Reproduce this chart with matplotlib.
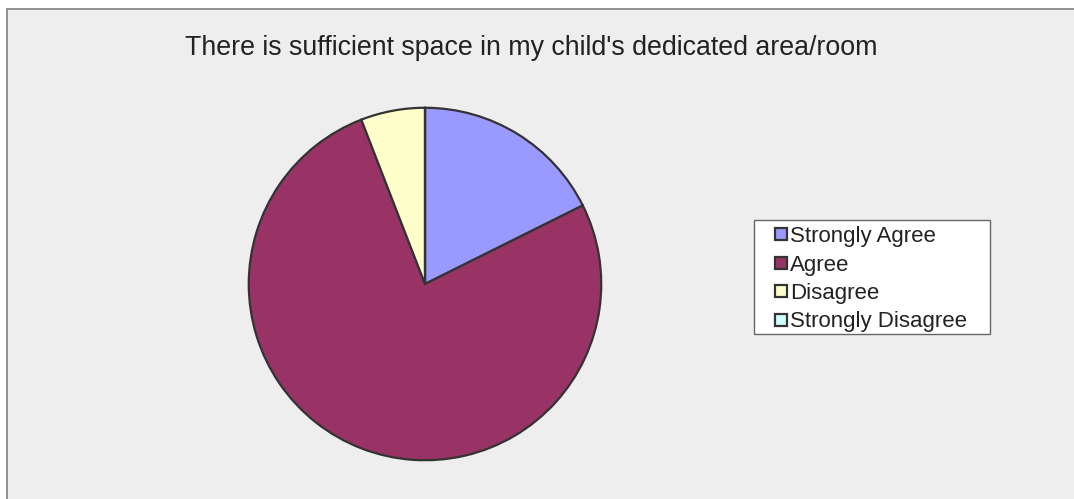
import matplotlib.pyplot as plt
from matplotlib.patches import Rectangle

# survey answers
labels = ['Strongly Agree', 'Agree', 'Disagree', 'Strongly Disagree']
counts = [3, 13, 1, 0]
colors = ['#9999ff', '#993366', '#ffffcc', '#ccffff']
title = "There is sufficient space in my child's dedicated area/room"

W, H = 1074, 499
fig = plt.figure(figsize=(W / 100, H / 100), dpi=100)
fig.patch.set_facecolor('white')


def px(x, y):
    # pixel coords (from top-left) -> figure fraction
    return x / W, 1 - y / H


# chart frame (runs off right/bottom edge)
fig.patches.append(Rectangle((7 / W, -0.1), 1.2, (H - 9) / H + 0.1,
                             transform=fig.transFigure, facecolor='#eeeeee',
                             edgecolor='#808080', linewidth=1.2, zorder=-5))

cx, cy, r = 425, 284, 178
ax = fig.add_axes([(cx - r) / W, (H - cy - r) / H, 2 * r / W, 2 * r / H])
ax.set_facecolor('none')
ax.set_zorder(2)
wedges, _ = ax.pie(counts, colors=colors, startangle=90, counterclock=False,
                   wedgeprops=dict(edgecolor='#333333', linewidth=1.6))
ax.set_aspect('equal')
ax.set_xlim(-1.01, 1.01)
ax.set_ylim(-1.01, 1.01)

fig.text(*px(531, 48), title, ha='center', va='center',
         fontsize=19.3, family='Liberation Sans', color='#222222')

# legend box drawn by hand to match the spacing
x0, y0, x1, y1 = 754, 220, 990, 334
fig.patches.append(Rectangle(px(x0, y1), (x1 - x0) / W, (y1 - y0) / H,
                             transform=fig.transFigure, facecolor='white',
                             edgecolor='#666666', linewidth=1.0, zorder=3))
for i, (lab, col) in enumerate(zip(labels, colors)):
    base = 242 + i * 28.5
    fig.patches.append(Rectangle(px(775, base - 2), 12 / W, 12 / H,
                                 transform=fig.transFigure, facecolor=col,
                                 edgecolor='#333333', linewidth=1.6, zorder=4))
    fig.text(*px(790, base), lab, ha='left', va='baseline', fontsize=16,
             family='Liberation Sans', color='#222222', zorder=4)

fig.savefig('out.png', dpi=100)
